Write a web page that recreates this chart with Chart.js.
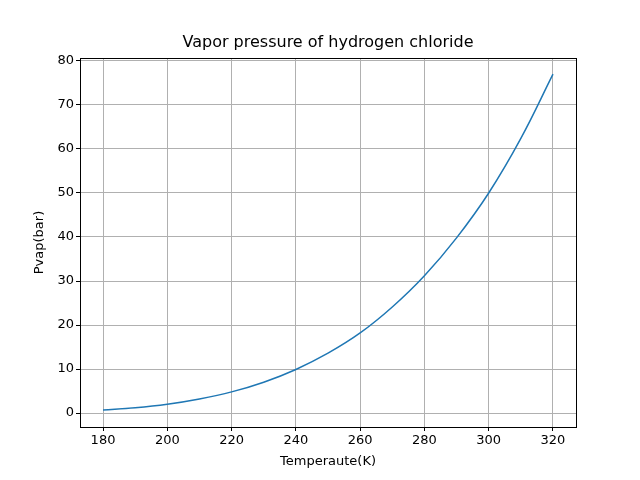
<!DOCTYPE html>
<html>
<head>
<meta charset="utf-8">
<script src="https://cdn.jsdelivr.net/npm/chart.js@4"></script>
<style>
  html, body { margin: 0; padding: 0; background: #fff; }
  #wrap { width: 640px; height: 480px; }
</style>
</head>
<body>
<div id="wrap"><canvas id="c" width="640" height="480"></canvas></div>
<script>
// values
const temps = [180, 190, 200, 210, 220, 230, 240, 250, 260, 270, 280, 290, 300, 310, 320];
const pvap = [0.7, 1.2, 2.0, 3.2, 4.8, 7.0, 9.9, 13.6, 18.2, 24.1, 31.2, 39.8, 50.0, 62.4, 77.0];
const xTicks = [180, 200, 220, 240, 260, 280, 300, 320];
const yTicks = [0, 10, 20, 30, 40, 50, 60, 70, 80];
const titleText = 'Vapor pressure of hydrogen chloride';
const xTitle = 'Temperaute(K)';
const yTitle = 'Pvap(bar)';

// frame, title and axis titles placed like matplotlib does
const frame = {
    id: 'frame',
    afterDraw(chart) {
        const a = chart.chartArea, ctx = chart.ctx;
        const cx = (a.left + a.right) / 2, cy = (a.top + a.bottom) / 2;
        ctx.save();
        ctx.strokeStyle = '#000';
        ctx.lineWidth = 1;
        ctx.strokeRect(a.left + 0.5, a.top + 0.5, a.right - a.left, a.bottom - a.top);
        ctx.fillStyle = '#000';
        ctx.textAlign = 'center';
        ctx.textBaseline = 'middle';
        ctx.font = '16px "DejaVu Sans"';
        ctx.fillText(titleText, cx, 43);
        ctx.font = '13px "DejaVu Sans"';
        ctx.fillText(xTitle, cx, 462);
        ctx.translate(40, cy);
        ctx.rotate(-Math.PI / 2);
        ctx.fillText(yTitle, 0, 0);
        ctx.restore();
    }
};

const font = { family: 'DejaVu Sans', size: 13 };

new Chart(document.getElementById('c'), {
    type: 'line',
    data: {
        datasets: [{
            data: temps.map((t, i) => ({ x: t, y: pvap[i] })),
            borderColor: '#1f77b4',
            borderWidth: 1.5,
            pointRadius: 0,
            tension: 0.4,
            fill: false
        }]
    },
    options: {
        animation: false,
        responsive: false,
        layout: { padding: { left: 0, right: 64, top: 58, bottom: 0 } },
        plugins: {
            legend: { display: false },
            tooltip: { enabled: false },
            title: { display: false }
        },
        scales: {
            x: {
                type: 'linear',
                min: 172.84,
                max: 327.16,
                afterBuildTicks: s => { s.ticks = xTicks.map(v => ({ value: v })); },
                afterFit: s => { s.height = 53; },
                ticks: { color: '#000', font, padding: 2, maxRotation: 0 },
                grid: { color: '#b0b0b0', tickColor: '#000', tickLength: 4 },
                border: { display: false }
            },
            y: {
                min: -3.18,
                max: 80.68,
                afterBuildTicks: s => { s.ticks = yTicks.map(v => ({ value: v })); },
                afterFit: s => { s.width = 80; },
                ticks: { color: '#000', font, padding: 2 },
                grid: { color: '#b0b0b0', tickColor: '#000', tickLength: 4 },
                border: { display: false }
            }
        }
    },
    plugins: [frame]
});
</script>
</body>
</html>
